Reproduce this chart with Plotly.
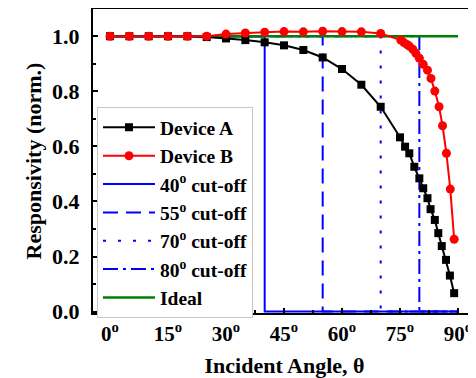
import plotly.graph_objects as go

# ---- data ----
angle_a = [0, 5, 10, 15, 20, 25, 30, 35, 40, 45, 50, 55, 60, 65, 70,
           75.0, 76.3, 77.4, 78.7, 80.0, 81.0, 82.1, 82.9, 84.0, 84.9, 85.8, 86.9, 87.9, 89.0]
resp_a = [1.0, 1.0, 1.0, 1.0, 1.0, 0.997, 0.992, 0.986, 0.978, 0.967, 0.95, 0.923, 0.881, 0.824, 0.744,
          0.633, 0.599, 0.575, 0.526, 0.484, 0.448, 0.412, 0.372, 0.333, 0.285, 0.238, 0.188, 0.131, 0.067]

angle_b = [0, 5, 10, 15, 20, 25, 30, 35, 40, 45, 50, 55, 60, 65, 70,
           75.2, 76.0, 76.8, 77.4, 78.3, 79.1, 80.0, 81.0, 82.1, 83.0, 84.0, 85.1, 86.0, 87.0, 88.0, 89.0]
resp_b = [1.0, 1.0, 1.0, 1.0, 1.0, 1.0, 1.008, 1.012, 1.015, 1.017, 1.016, 1.018, 1.017, 1.016, 1.01,
          0.986, 0.977, 0.970, 0.964, 0.953, 0.938, 0.920, 0.898, 0.877, 0.847, 0.801, 0.744, 0.675, 0.575, 0.445, 0.263]

cutoffs = [40, 55, 70, 80]
cutoff_dash = ["solid", "15px,8px", "3px,12px", "15px,5px,3px,5px"]
ideal_x = [0, 90]
ideal_y = [1.0, 1.0]

x_tickvals = [0, 15, 30, 45, 60, 75, 90]
x_ticktext = [f"{v}<sup>o</sup>" for v in x_tickvals]
y_tickvals = [0.0, 0.2, 0.4, 0.6, 0.8, 1.0]

FONT = "Liberation Serif"
fig = go.Figure()

for i, (c, d) in enumerate(zip(cutoffs, cutoff_dash)):
    fig.add_trace(go.Scatter(
        x=[0, c, c, 90], y=[1, 1, 0, 0], mode="lines",
        line=dict(color="#0000ff", width=2, dash=d),
        name=f"{c}<sup>o</sup> cut-off", legendrank=3 + i))

fig.add_trace(go.Scatter(x=ideal_x, y=ideal_y, mode="lines",
                         line=dict(color="#008000", width=2.5), name="Ideal", legendrank=10))
fig.add_trace(go.Scatter(x=angle_a, y=resp_a, mode="lines+markers",
                         line=dict(color="black", width=2),
                         marker=dict(symbol="square", size=8, color="black"),
                         name="Device A", legendrank=1))
fig.add_trace(go.Scatter(x=angle_b, y=resp_b, mode="lines+markers",
                         line=dict(color="#ff0000", width=2),
                         marker=dict(symbol="circle", size=9, color="#ff0000"),
                         name="Device B", legendrank=2))

fig.update_layout(
    width=468, height=370,
    margin=dict(l=85, r=0, t=1, b=65),
    paper_bgcolor="white", plot_bgcolor="white",
    font=dict(family=FONT, size=20, color="black", weight="bold"),
    showlegend=True,
    legend=dict(x=0.0104, y=0.677, xanchor="left", yanchor="top",
                bgcolor="white", bordercolor="#c8c8c8", borderwidth=1,
                font=dict(family=FONT, size=19.5, color="black", weight="bold"),
                tracegroupgap=0, itemwidth=52),
)
fig.update_xaxes(
    range=[-4.4, 94.65], showgrid=False, zeroline=False, automargin=False,
    showline=True, linecolor="black", linewidth=2, mirror=True,
    tickvals=x_tickvals, ticktext=x_ticktext,
    ticks="inside", ticklen=5, tickwidth=1.5, tickcolor="black",
    minor=dict(ticks="inside", dtick=7.5, tick0=0, ticklen=3, tickcolor="black", tickwidth=1.5),
    tickfont=dict(family=FONT, size=21, weight="bold"), ticklabelstandoff=1,
    title=dict(text="Incident Angle, θ", font=dict(family=FONT, size=22, weight="bold"), standoff=17),
)
fig.update_yaxes(
    range=[-0.005, 1.099], showgrid=False, zeroline=False, automargin=False,
    showline=True, linecolor="black", linewidth=2, mirror=False,
    tickvals=y_tickvals, tickformat=".1f",
    ticks="inside", ticklen=5, tickwidth=1.5, tickcolor="black",
    minor=dict(ticks="inside", dtick=0.1, tick0=0, ticklen=3, tickcolor="black", tickwidth=1.5),
    tickfont=dict(family=FONT, size=22, weight="bold"), ticklabelstandoff=7,
    title=dict(text="Responsivity (norm.)", font=dict(family=FONT, size=22, weight="bold"), standoff=4),
)

fig.write_html("out.html")
